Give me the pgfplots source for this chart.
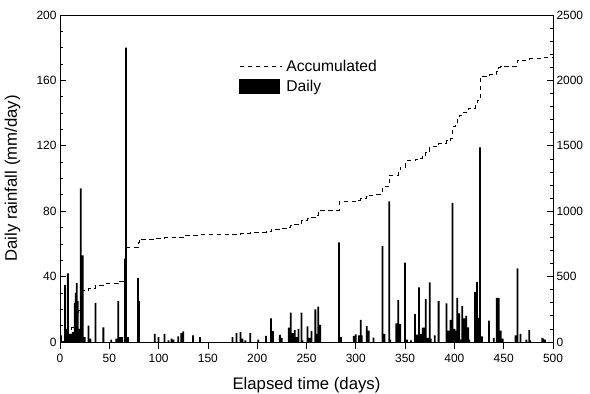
\documentclass[border=0pt]{standalone}
\usepackage{fontspec}
\setmainfont{Liberation Sans}
\usepackage{pgfplots}
\pgfplotsset{compat=1.18}
\usepackage{pgfplotstable}

\pgfplotstableread{
day val
1 4
5 35
6 8
8 42
10 5
12 5
13 6
15 24
16 30
17 36
18 25
19 8
21 94
23 53
25 3
29 10
31 2
36 24
44 9
52 1.5
57 2
59 25
61 3
63 3
66 51
67 180
69 3
79 39
80 25
96 5
100 3
106 5
110 1
113 2
115 1.5
120 3.5
123 5.5
125 6.5
135 4
142 3
175 3
179 5.5
183 6
185 2
188 1
193 5.5
201 1.5
209 3.7
214 14.5
216 6.7
223 4.3
225 2.5
232 8.8
234 18
236 5.5
238 7.3
240 3
242 8
245 18
246 1
251 9.5
253 2.5
255 6.7
259 20
260 5
262 21.6
264 10.4
283 61
285 3
298 3.7
300 4.6
303 4
305 13.5
306 4
311 9.7
313 7
318 2.6
327 58.7
329 5
334 86
335 1.5
341 11.4
343 25.7
345 11
350 48.5
352 1.5
356 1
360 17
362 4.5
364 33.4
366 5
368 8.8
370 8.8
371 26.3
373 2.5
375 36.5
376 2
380 4
384 25
392 23.6
394 7
396 13.5
398 85
400 8
401 7
403 27
405 17.5
406 1.5
408 22
410 14.5
412 16
414 9
415 1.5
421 30.7
423 36.8
424 14.7
426 119
428 3.5
435 13
440 2.5
443 27
445 27
447 7
449 2
462 4
464 45
467 5
473 1.5
476 7.3
477 1
489 2.5
490 2
492 1.5
}\dailydata

\pgfplotstableread{
day cum
0 0
1 5
5 40
8 90
12 110
15 135
16 165
17 200
18 225
19 240
21 340
23 397
29 410
36 435
44 445
59 465
66 515
67 721
79 765
80 785
96 792
106 797
120 803
125 818
142 820
175 823
183 831
193 838
209 844
214 858
216 862
223 869
232 880
234 893
238 900
242 910
245 933
251 946
255 955
259 971
262 995
264 1009
283 1073
300 1082
305 1096
311 1115
313 1124
318 1131
327 1188
334 1277
343 1313
345 1338
350 1385
360 1395
364 1404
368 1420
371 1450
375 1493
384 1519
392 1544
396 1560
398 1645
401 1670
403 1700
405 1735
408 1752
412 1775
414 1787
421 1810
423 1845
424 1860
426 2030
435 2045
443 2072
445 2100
447 2108
464 2150
467 2156
476 2165
490 2175
500 2179
}\accdata

\begin{document}
\begin{tikzpicture}
\useasboundingbox (-60bp,-52bp) rectangle (530bp,342bp);
\begin{axis}[
  scale only axis, width=493bp, height=327bp,
  xmin=0, xmax=500, ymin=0, ymax=200,
  enlargelimits=false,
  axis line style={line width=0.8bp},
  tick style={line width=0.7bp, black},
  tick align=inside,
  major tick length=6.5bp,
  minor tick length=3.5bp,
  xtick=\empty,
  minor xtick={10,20,...,490},
  extra x ticks={0,50,...,500},
  extra x tick style={tick align=outside},
  xtick pos=bottom,
  ytick={0,40,...,200},
  minor y tick num=3,
  ytick pos=left,
  ticklabel style={font=\fontsize{12}{14}\selectfont},
  xticklabel style={yshift=-2bp},
  /pgf/number format/assume math mode=true,
  /pgf/number format/1000 sep={},
  xlabel={Elapsed time (days)},
  ylabel={Daily rainfall (mm/day)},
  label style={font=\fontsize{16.8}{19}\selectfont},
  xlabel style={at={(axis description cs:0.5,-0.1315)}, anchor=center},
  ylabel style={at={(axis description cs:-0.0964,0.5)}, anchor=center},
]
\addplot[ybar, bar width=1.8, fill=black, draw=none] table[x=day,y=val]{\dailydata};
\end{axis}
\begin{axis}[
  scale only axis, width=493bp, height=327bp,
  xmin=0, xmax=500, ymin=0, ymax=2500,
  enlargelimits=false,
  hide x axis,
  axis y line*=right,
  axis line style={line width=0.8bp},
  tick style={line width=0.7bp, black},
  tick align=inside,
  ytick={0,500,...,2500},
  minor y tick num=4,
  major tick length=6.5bp,
  minor tick length=3.5bp,
  ticklabel style={font=\fontsize{12}{14}\selectfont},
  /pgf/number format/assume math mode=true,
  /pgf/number format/1000 sep={},
  legend cell align=left,
  legend style={at={(axis description cs:0.363,0.868)}, anchor=north west,
    draw=none, fill=none, inner sep=0pt, column sep=2.5bp,
    font=\fontsize{15.7}{18}\selectfont, row sep=3bp},
]
\addplot[const plot mark left, black, line width=0.7bp, dash pattern=on 4.5bp off 3.5bp,
  legend image code/.code={\draw[black, line width=0.7bp, dash pattern=on 4.5bp off 3.5bp] (0bp,0bp) -- (42bp,0bp);}]
  table[x=day,y=cum]{\accdata};
\addlegendentry{Accumulated}
\addlegendimage{legend image code/.code={\fill[black] (0bp,-7bp) rectangle (40bp,7bp);}}
\addlegendentry{Daily}
\end{axis}
\end{tikzpicture}
\end{document}
